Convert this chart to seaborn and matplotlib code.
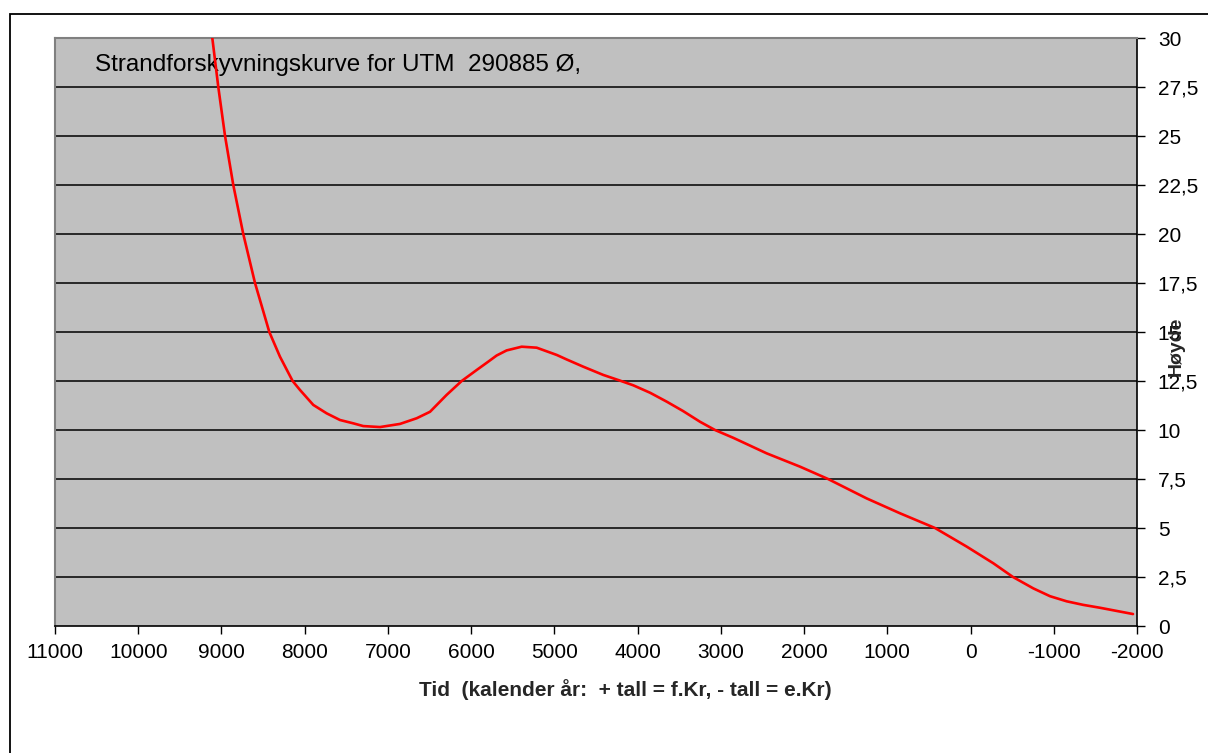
import pandas as pd
import matplotlib
matplotlib.use('Agg')
import matplotlib.pyplot as plt
import matplotlib.patches as mpatches
import seaborn as sns

# --- Data ---
YEARS = [9110, 9038, 8957, 8858, 8738, 8597, 8425, 8297, 8145, 8056, 7897,
         7736, 7576, 7416, 7296, 7176, 7095, 6855, 6654, 6494, 6295, 6114,
         5934, 5800, 5694, 5574, 5393, 5213, 4972, 4853, 4653, 4413, 4212,
         4052, 3850, 3652, 3455, 3250, 3070, 2850, 2450, 2049, 1712, 1248,
         847, 427, 46, -274, -510, -754, -955, -1155, -1351, -1556, -1952]
HEIGHTS = [30.0, 27.5, 25.0, 22.5, 20.0, 17.5, 15.0, 13.74, 12.5, 12.04, 11.28,
           10.85, 10.51, 10.34, 10.2, 10.17, 10.15, 10.31, 10.6, 10.93, 11.79, 12.5,
           13.06, 13.47, 13.8, 14.06, 14.25, 14.2, 13.83, 13.6, 13.23, 12.81, 12.52,
           12.28, 11.9, 11.45, 10.97, 10.42, 10.0, 9.6, 8.81, 8.13, 7.5, 6.51,
           5.75, 5.0, 4.05, 3.2, 2.5, 1.92, 1.52, 1.26, 1.08, 0.93, 0.61]
X_TICKS = list(range(11000, -2001, -1000))
Y_TICKS = [0, 2.5, 5, 7.5, 10, 12.5, 15, 17.5, 20, 22.5, 25, 27.5, 30]

TITLE = 'Strandforskyvningskurve for UTM  290885 Ø,'
X_LABEL = 'Tid  (kalender år:  + tall = f.Kr, - tall = e.Kr)'
Y_LABEL = 'Høyde'

df = pd.DataFrame({'Tid': YEARS, 'Høyde': HEIGHTS})

sns.set_theme(style="white")
plt.rcParams['font.family'] = ['Liberation Sans', 'DejaVu Sans']

W, H = 1208, 753
fig = plt.figure(figsize=(W / 100, H / 100), dpi=100)
ax = fig.add_axes([55 / W, 1 - 626 / H, (1137 - 55) / W, (626 - 38) / H])
ax.set_facecolor('#c0c0c0')

# horizontal gridlines
for y in Y_TICKS[1:-1]:
    ax.axhline(y, color='black', linewidth=1.1, zorder=1)

sns.lineplot(data=df, x='Tid', y='Høyde', sort=False, estimator=None,
             color='#ff0000', linewidth=1.9, ax=ax, zorder=3)

ax.set_xlim(11000, -2000)
ax.set_ylim(0, 30)
ax.set_xticks(X_TICKS)
ax.set_yticks(Y_TICKS)
ax.yaxis.tick_right()
ax.xaxis.set_major_formatter(plt.FuncFormatter(lambda v, _: f'{v:.0f}'))
ax.yaxis.set_major_formatter(plt.FuncFormatter(lambda v, _: f'{v:g}'.replace('.', ',')))
ax.tick_params(axis='x', direction='out', length=6, width=1, pad=6,
               labelsize=15, colors='black', bottom=True)
ax.tick_params(axis='y', direction='out', length=6, width=1, pad=9,
               labelsize=15, colors='black', right=True, left=False)
ax.set_xlabel('')
ax.set_ylabel('')

for side in ['left', 'top']:
    ax.spines[side].set_color('#808080')
    ax.spines[side].set_linewidth(1.5)
for side in ['right', 'bottom']:
    ax.spines[side].set_color('black')
    ax.spines[side].set_linewidth(1.2)

ax.text(95 / W, 1 - 65 / H, TITLE, transform=fig.transFigure,
        fontsize=17.5, va='center', ha='left', color='black', zorder=2)

fig.text(625 / W, 1 - 690 / H, X_LABEL, ha='center', va='center',
         fontsize=15, fontweight='bold')
fig.text(1176 / W, 1 - 346 / H, Y_LABEL, ha='center', va='center',
         rotation=90, fontsize=14, fontweight='bold')

# outer chart frame
fig.patches.append(mpatches.Rectangle((10 / W, -0.5), 2, 1.5 - 14 / H,
                                      transform=fig.transFigure, fill=False,
                                      edgecolor='black', linewidth=1.3))

fig.savefig('out.png', dpi=100)
